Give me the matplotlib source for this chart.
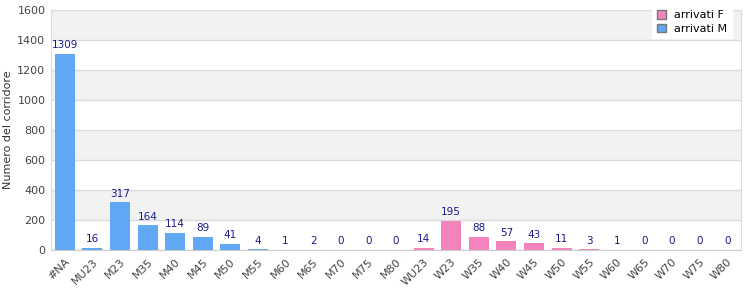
import numpy as np
import matplotlib
matplotlib.use('Agg')
import matplotlib.pyplot as plt
from matplotlib.patches import Patch

cat_m = ['#NA', 'MU23', 'M23', 'M35', 'M40', 'M45', 'M50', 'M55', 'M60', 'M65', 'M70', 'M75', 'M80']
val_m = [1309, 16, 317, 164, 114, 89, 41, 4, 1, 2, 0, 0, 0]
cat_f = ['WU23', 'W23', 'W35', 'W40', 'W45', 'W50', 'W55', 'W60', 'W65', 'W70', 'W75', 'W80']
val_f = [14, 195, 88, 57, 43, 11, 3, 1, 0, 0, 0, 0]

col_m = '#60a8f4'
col_f = '#f383bb'
lab_col = '#1a1a8c'

plt.rcParams['font.family'] = ['DejaVu Sans']
fig = plt.figure(figsize=(7.5, 3), dpi=100)
ax = fig.add_axes([0.068, 0.167, 0.92, 0.8])

cats = cat_m + cat_f
xm = np.arange(len(cat_m))
xf = np.arange(len(cat_m), len(cats))

# alternating background bands
for i, lo in enumerate(range(0, 1600, 200)):
    if i % 2 == 1:
        ax.axhspan(lo, lo + 200, color='#f2f2f2', zorder=0, lw=0)
ax.yaxis.grid(True, color='#dcdcdc', lw=1)
ax.set_axisbelow(True)

bm = ax.bar(xm, val_m, width=0.72, color=col_m, zorder=2)
bf = ax.bar(xf, val_f, width=0.72, color=col_f, zorder=2)
for bars, vals in ((bm, val_m), (bf, val_f)):
    for b, v in zip(bars, vals):
        ax.text(b.get_x() + b.get_width() / 2, v + 25, str(v), ha='center', va='bottom',
                fontsize=7.5, color=lab_col)

ax.set_xlim(-0.5, len(cats) - 0.5)
ax.set_ylim(0, 1600)
ax.set_yticks(range(0, 1601, 200))
ax.set_xticks(range(len(cats)))
ax.set_xticklabels(cats, rotation=45, ha='right', rotation_mode='anchor')
ax.tick_params(axis='both', length=0, labelsize=8, colors='#444444', pad=4)
ax.tick_params(axis='x', pad=5)
ax.set_ylabel('Numero del corridore', fontsize=8, color='#333333', labelpad=3)
for s in ax.spines.values():
    s.set_color('#dddddd')
ax.spines['bottom'].set_color('#cccccc')

handles = [Patch(facecolor=col_f, edgecolor='#777777', label='arrivati F'),
           Patch(facecolor=col_m, edgecolor='#777777', label='arrivati M')]
leg = ax.legend(handles=handles, loc='upper right', bbox_to_anchor=(0.995, 1.04),
                fontsize=8, frameon=True, fancybox=False, borderpad=0.4,
                handlelength=0.8, handleheight=0.8, handletextpad=0.8, labelspacing=0.3)
leg.get_frame().set_edgecolor('white')
leg.get_frame().set_facecolor('white')
leg.get_frame().set_alpha(1)
leg.set_zorder(5)

fig.savefig('out.png', dpi=100)
